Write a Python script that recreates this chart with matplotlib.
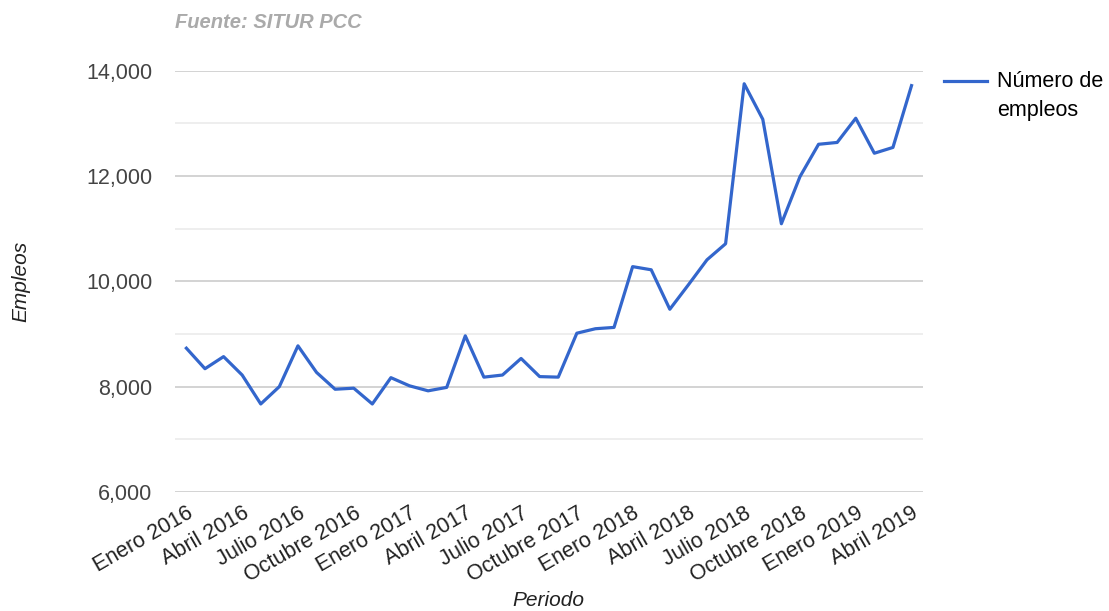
import matplotlib.pyplot as plt
import numpy as np

plt.rcParams['font.family'] = ['Liberation Sans', 'DejaVu Sans']

# Número de empleos mensual, enero 2016 - abril 2019
meses = ["Enero", "Febrero", "Marzo", "Abril", "Mayo", "Junio", "Julio",
         "Agosto", "Septiembre", "Octubre", "Noviembre", "Diciembre"]
anios = [2016, 2017, 2018, 2019]
periodos = [f"{m} {a}" for a in anios for m in meses][:40]

empleos = [8730, 8340, 8570, 8220, 7670, 8000, 8775, 8270, 7950, 7970, 7670, 8170,
           8015, 7920, 7985, 8965, 8180, 8220, 8535, 8190, 8180, 9015, 9100, 9125,
           10280, 10220, 9470, 9935, 10410, 10715, 13755, 13080, 11095, 11990, 12605, 12640,
           13100, 12435, 12545, 13720]

y_ticks = [6000, 8000, 10000, 12000, 14000]
y_minor = [7000, 9000, 11000, 13000]

fig = plt.figure(figsize=(11.09, 6.11), dpi=100)
ax = fig.add_axes([0.158, 0.195, 0.674, 0.689])

x = np.arange(len(empleos))
ax.plot(x, empleos, color="#3366cc", linewidth=2.3, label="Número de\nempleos")

ax.set_xlim(-0.6, len(empleos) - 0.4)
ax.set_ylim(6000, 14000)
ax.set_yticks(y_ticks)
ax.set_yticks(y_minor, minor=True)
ax.set_yticklabels([f"{v:,}" for v in y_ticks])
ax.grid(True, axis="y", which="major", color="#cccccc", linewidth=1.2)
ax.grid(True, axis="y", which="minor", color="#ebebeb", linewidth=1.2)
ax.set_axisbelow(True)
for s in ax.spines.values():
    s.set_visible(False)

idx = list(range(0, len(empleos), 3))
ax.set_xticks(idx)
ax.set_xticklabels([periodos[i] for i in idx], rotation=30, ha="right",
                   rotation_mode="anchor", fontsize=15.5, color="#222222")
ax.tick_params(axis="x", length=0, pad=8)
ax.tick_params(axis="y", which="both", length=0, pad=16.5, labelsize=15.5, labelcolor="#444444")

ax.set_xlabel("Periodo", fontsize=15, style="italic", color="#222222", va="center")
ax.xaxis.set_label_coords(0.499, -0.257)
ax.set_ylabel("Empleos", fontsize=15, style="italic", color="#222222", labelpad=40)
ax.set_title("Fuente: SITUR PCC", loc="left", fontsize=14.5, fontweight="bold",
             style="italic", color="#aaaaaa", pad=31)

leg = ax.legend(loc="upper left", bbox_to_anchor=(0.834, 0.916), bbox_transform=fig.transFigure,
                frameon=False, fontsize=15.5, handlelength=2.0, handletextpad=0.45)
leg.get_texts()[0].set_linespacing(1.55)
# la línea de la leyenda va alineada con la primera línea del texto
h = leg.get_lines()[0]
h.set_ydata(np.asarray(h.get_ydata()) + 11)

fig.savefig("out.png", dpi=100)
